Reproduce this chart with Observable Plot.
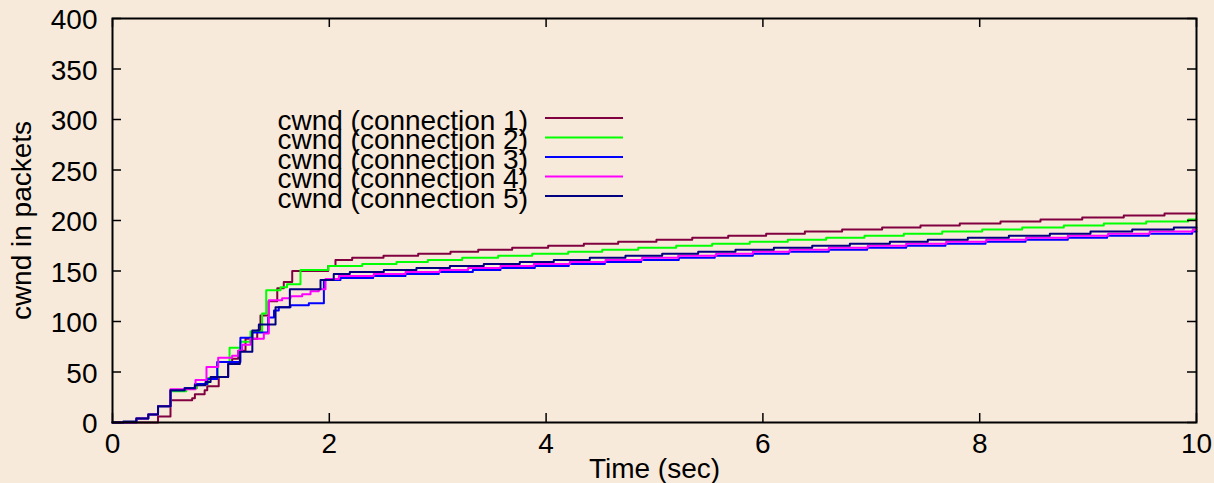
<!DOCTYPE html>
<html>
<head>
<meta charset="utf-8">
<script src="https://cdn.jsdelivr.net/npm/d3@7"></script>
<script src="https://cdn.jsdelivr.net/npm/@observablehq/plot@0.6"></script>
<style>
html, body { margin: 0; padding: 0; background: #f8eadb; }
#chart svg { display: block; }
</style>
</head>
<body>
<div id="chart"></div>
<script>
// ---- data ----
const seriesNames = ["cwnd (connection 1)", "cwnd (connection 2)", "cwnd (connection 3)", "cwnd (connection 4)", "cwnd (connection 5)"];
const seriesColors = ["#800040", "#00ff00", "#0000ff", "#ff00ff", "#000080"];

const t1 = [0, 0.42, 0.535, 0.735, 0.76, 0.85, 0.874, 0.98, 1.067, 1.104, 1.16, 1.227, 1.335, 1.365, 1.44, 1.52, 1.58, 1.658, 1.99, 2.057, 2.211, 2.5, 2.82, 3.118, 3.374, 3.687, 4.019, 4.348, 4.665, 5.018, 5.348, 5.68, 6.03, 6.387, 6.731, 7.1, 7.454, 7.816, 8.192, 8.561, 8.946, 9.329, 9.705, 10];
const v1 = [0, 6, 22, 24, 28, 32, 36, 45, 58, 63, 71, 83, 91, 106, 120, 133, 139, 150, 155, 161, 163, 165, 167, 169, 171, 173, 175, 177, 179, 181, 183, 185, 187, 189, 191, 193, 195, 197, 199, 201, 203, 205, 207, 207];

const t2 = [0, 0.22, 0.33, 0.42, 0.535, 0.68, 0.78, 0.88, 0.97, 1.08, 1.18, 1.273, 1.38, 1.418, 1.55, 1.61, 1.734, 1.99, 2.304, 2.62, 2.909, 3.226, 3.558, 3.872, 4.204, 4.518, 4.85, 5.2, 5.532, 5.879, 6.23, 6.584, 6.937, 7.3, 7.654, 8.023, 8.392, 8.776, 9.145, 9.536, 9.923, 10];
const v2 = [0, 4, 8, 16, 31, 34, 38, 44, 60, 74, 80, 90, 108, 131, 134, 137, 151, 155, 157, 159, 161, 163, 165, 167, 169, 171, 173, 175, 177, 179, 181, 183, 185, 187, 189, 191, 193, 195, 197, 199, 201, 201];

const t3 = [0, 0.22, 0.33, 0.42, 0.535, 0.665, 0.76, 0.874, 0.966, 1.18, 1.29, 1.436, 1.49, 1.534, 1.642, 1.811, 1.95, 2.103, 2.405, 2.703, 3.01, 3.324, 3.579, 3.896, 4.209, 4.542, 4.877, 5.224, 5.556, 5.907, 6.239, 6.608, 6.962, 7.322, 7.684, 8.054, 8.423, 8.813, 9.176, 9.56, 9.96, 10];
const v3 = [0, 4, 8, 16, 32, 34, 38, 43, 60, 84, 89, 104, 111, 114, 116, 118, 141, 143, 145, 147, 149, 151, 153, 155, 157, 159, 161, 163, 165, 167, 169, 171, 173, 175, 177, 179, 181, 183, 185, 187, 189, 189];

const t4 = [0, 0.22, 0.33, 0.42, 0.535, 0.766, 0.867, 0.975, 1.104, 1.16, 1.196, 1.273, 1.396, 1.442, 1.565, 1.642, 1.75, 1.827, 1.903, 1.965, 2.088, 2.41, 2.703, 3.019, 3.281, 3.579, 3.887, 4.219, 4.548, 4.886, 5.219, 5.569, 5.907, 6.248, 6.608, 6.968, 7.322, 7.691, 8.06, 8.429, 8.813, 9.185, 9.569, 9.966, 10];
const v4 = [0, 4, 8, 16, 33, 42, 55, 64, 66, 71, 77, 83, 88, 121, 123, 125, 127, 130, 132, 142, 145, 147, 149, 151, 153, 155, 157, 159, 161, 163, 165, 167, 169, 171, 173, 175, 177, 179, 181, 183, 185, 187, 189, 191, 191];

const t5 = [0, 0.1, 0.22, 0.33, 0.42, 0.535, 0.665, 0.76, 0.858, 0.905, 1.067, 1.175, 1.29, 1.35, 1.504, 1.636, 1.919, 2.041, 2.189, 2.503, 2.804, 3.112, 3.425, 3.757, 4.071, 4.403, 4.732, 5.071, 5.403, 5.747, 6.101, 6.455, 6.802, 7.171, 7.521, 7.89, 8.269, 8.647, 9.022, 9.407, 9.791, 10];
const v5 = [0, 1, 4, 8, 16, 32, 34, 37, 40, 45, 58, 70, 91, 97, 114, 132, 141, 147, 149, 151, 153, 155, 157, 159, 161, 163, 165, 167, 169, 171, 173, 175, 177, 179, 181, 183, 185, 187, 189, 191, 193, 193];

const xTicks = [0, 2, 4, 6, 8, 10];
const yTicks = [0, 50, 100, 150, 200, 250, 300, 350, 400];
const xLabel = "Time (sec)";
const yLabel = "cwnd in packets";

// ---- build table ----
const seriesData = [[t1, v1], [t2, v2], [t3, v3], [t4, v4], [t5, v5]];
const rows = [];
seriesData.forEach(([ts, vs], k) => {
  ts.forEach((t, i) => rows.push({series: seriesNames[k], t, v: vs[i]}));
});

const W = 1214, H = 483;
const mL = 112, mR = 18, mT = 18, mB = 61;
const frameW = W - mL - mR, frameH = H - mT - mB;
const tick = 9;
const FONT = "'Liberation Sans', Arial, Helvetica, sans-serif";

function legend(index, scales, values, dimensions) {
  const g = d3.create("svg:g").attr("font-family", FONT).attr("font-size", 28);
  seriesNames.forEach((name, i) => {
    const cy = dimensions.marginTop + 100 + i * 19.5;
    g.append("text")
      .attr("x", dimensions.marginLeft + 416)
      .attr("y", cy + 11.5)
      .attr("text-anchor", "end")
      .attr("fill", "black")
      .text(name);
    g.append("line")
      .attr("x1", dimensions.marginLeft + 433)
      .attr("x2", dimensions.marginLeft + 511)
      .attr("y1", cy).attr("y2", cy)
      .attr("stroke", scales.color(name))
      .attr("stroke-width", 2);
  });
  return g.node();
}

const chart = Plot.plot({
  width: W, height: H,
  marginLeft: mL, marginRight: mR, marginTop: mT, marginBottom: mB,
  style: {background: "#f8eadb", fontFamily: FONT, fontSize: "28px", color: "black", overflow: "visible"},
  x: {domain: [0, 10]},
  y: {domain: [0, 400]},
  color: {domain: seriesNames, range: seriesColors},
  marks: [
    Plot.line(rows, {x: "t", y: "v", z: "series", stroke: "series", curve: "step-after", strokeWidth: 2}),
    // inward ticks on all four sides
    Plot.tickX(xTicks, {x: d => d, insetTop: frameH - tick, stroke: "black", strokeWidth: 1.5}),
    Plot.tickX(xTicks, {x: d => d, insetBottom: frameH - tick, stroke: "black", strokeWidth: 1.5}),
    Plot.tickY(yTicks, {y: d => d, insetRight: frameW - tick, stroke: "black", strokeWidth: 1.5}),
    Plot.tickY(yTicks, {y: d => d, insetLeft: frameW - tick, stroke: "black", strokeWidth: 1.5}),
    Plot.frame({stroke: "black", strokeWidth: 2}),
    Plot.axisX({ticks: xTicks, tickSize: 0, tickPadding: 11, label: null, tickFormat: d => String(d)}),
    Plot.axisY({ticks: yTicks, tickSize: 0, tickPadding: 15, label: null, dy: 2, tickFormat: d => String(d)}),
    Plot.text([xLabel], {frameAnchor: "bottom", dy: 36, lineAnchor: "top", textAnchor: "middle", text: d => d}),
    Plot.text([yLabel], {frameAnchor: "left", rotate: -90, dx: -90, textAnchor: "middle", lineAnchor: "middle", text: d => d}),
    legend
  ]
});
document.getElementById("chart").appendChild(chart);
</script>
</body>
</html>
